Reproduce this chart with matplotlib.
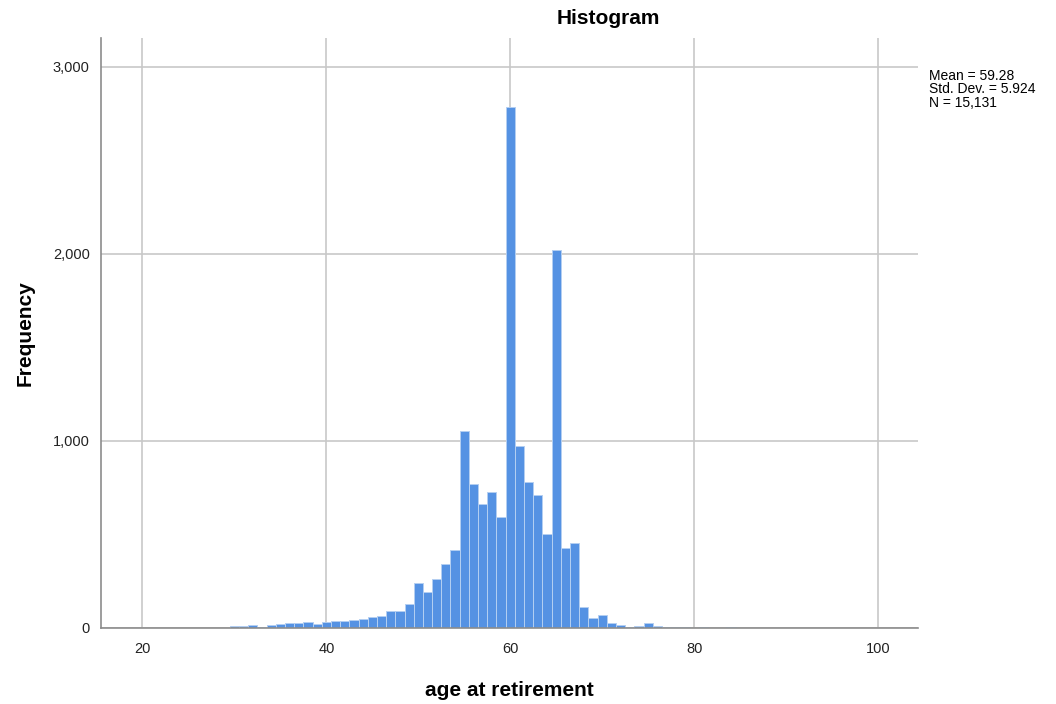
import matplotlib
matplotlib.use("Agg")
import matplotlib.pyplot as plt

# ages (bin centres) and counts
ages = list(range(30, 86))
counts = [9, 9, 14, 7, 16, 23, 27, 29, 32, 21,
          32, 39, 39, 43, 50, 61, 66, 93, 93, 127,
          242, 194, 260, 342, 417, 1055, 768, 665, 725, 595,
          2788, 975, 781, 711, 503, 2021, 428, 455, 114, 55,
          71, 25, 14, 5, 12, 25, 10, 6, 6, 4,
          2, 3, 1, 2, 3, 1]

xticks = [20, 40, 60, 80, 100]
yticks = [0, 1000, 2000, 3000]
ytick_labels = ["0", "1,000", "2,000", "3,000"]
stats_lines = ["Mean = 59.28", "Std. Dev. = 5.924", "N = 15,131"]

plt.rcParams['font.family'] = ['Liberation Sans', 'DejaVu Sans']

fig = plt.figure(figsize=(10.56, 7.04), dpi=100)
ax = fig.add_axes([0.0956, 0.108, 0.7735, 0.838])

ax.bar(ages, counts, width=1.0, color='#5592e3', edgecolor='#b4cff2', linewidth=0.7, zorder=2)

ax.set_xlim(15.5, 104.3)
ax.set_ylim(0, 3155)
ax.set_xticks(xticks)
ax.set_yticks(yticks)
ax.set_yticklabels(ytick_labels)
ax.tick_params(axis='both', length=0, labelsize=10.5, colors='#222222')
ax.tick_params(axis='x', pad=10)
ax.tick_params(axis='y', pad=8)

ax.grid(True, color='#c8c8c8', linewidth=1.2, zorder=0)
ax.set_axisbelow(True)
for s in ['top', 'right']:
    ax.spines[s].set_visible(False)
for s in ['left', 'bottom']:
    ax.spines[s].set_color('#8c8c8c')
    ax.spines[s].set_linewidth(1.2)

ax.set_xlabel("age at retirement", fontsize=15, fontweight='bold', labelpad=18)
ax.set_ylabel("Frequency", fontsize=15, fontweight='bold', labelpad=13)

fig.text(608 / 1056, 1 - 18 / 704, "Histogram", fontsize=15, fontweight='bold',
         ha='center', va='center')
fig.text(929 / 1056, 1 - 69 / 704, "\n".join(stats_lines), fontsize=10,
         ha='left', va='top', linespacing=0.95)

fig.savefig("out.png", dpi=100)
